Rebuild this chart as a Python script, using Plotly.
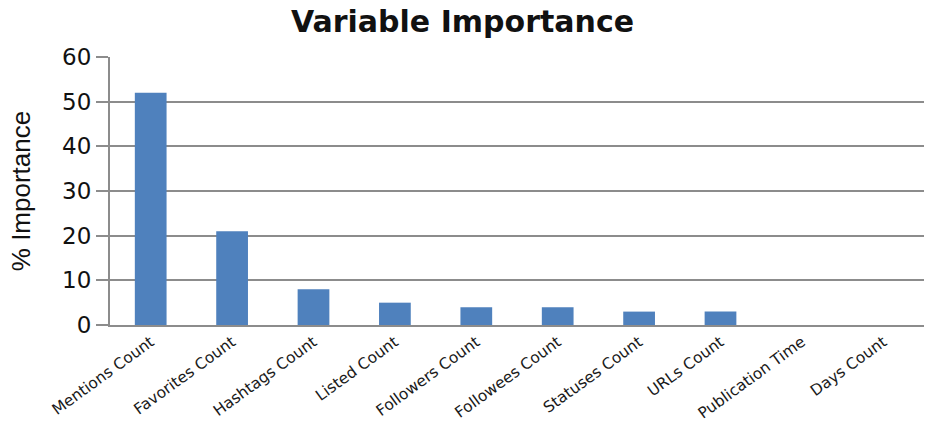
import plotly.graph_objects as go

# Variable importance of tweet features (percent)
features = [
    "Mentions Count", "Favorites Count", "Hashtags Count", "Listed Count",
    "Followers Count", "Followees Count", "Statuses Count", "URLs Count",
    "Publication Time", "Days Count",
]
importance = [52, 21, 8, 5, 4, 4, 3, 3, 0, 0]
y_ticks = [0, 10, 20, 30, 40, 50, 60]

BAR_COLOR = "#4F81BD"
GRID_COLOR = "#8C8C8C"

fig = go.Figure(
    go.Bar(
        x=features,
        y=importance,
        marker=dict(color=BAR_COLOR, line=dict(width=0)),
        hoverinfo="x+y",
    )
)

fig.update_layout(
    width=925,
    height=424,
    margin=dict(l=110, r=1, t=57, b=99, autoexpand=False),
    paper_bgcolor="white",
    plot_bgcolor="white",
    bargap=0.61,
    showlegend=False,
    title=dict(
        text="<b>Variable Importance</b>",
        x=0.5,
        xanchor="center",
        y=0.95,
        yanchor="middle",
        font=dict(family="DejaVu Sans", size=30, color="#111111"),
    ),
)

fig.update_xaxes(
    type="category",
    tickangle=-36,
    tickfont=dict(family="DejaVu Sans", size=15.5, color="#1a1a1a"),
    showgrid=False,
    showline=True,
    linecolor=GRID_COLOR,
    linewidth=2,
    ticks="",
    automargin=False,
)

fig.update_yaxes(
    range=[0, 60],
    tickvals=y_ticks,
    tickfont=dict(family="DejaVu Sans", size=23, color="#111111"),
    showgrid=True,
    gridcolor=GRID_COLOR,
    gridwidth=1.6,
    zeroline=False,
    showline=True,
    linecolor=GRID_COLOR,
    linewidth=2,
    ticks="outside",
    ticklen=12,
    tickcolor=GRID_COLOR,
    tickwidth=1.6,
    automargin=False,
    title=dict(
        text="% Importance",
        font=dict(family="Liberation Sans", size=26, color="#111111"),
        standoff=24,
    ),
)

fig.write_html("out.html")
